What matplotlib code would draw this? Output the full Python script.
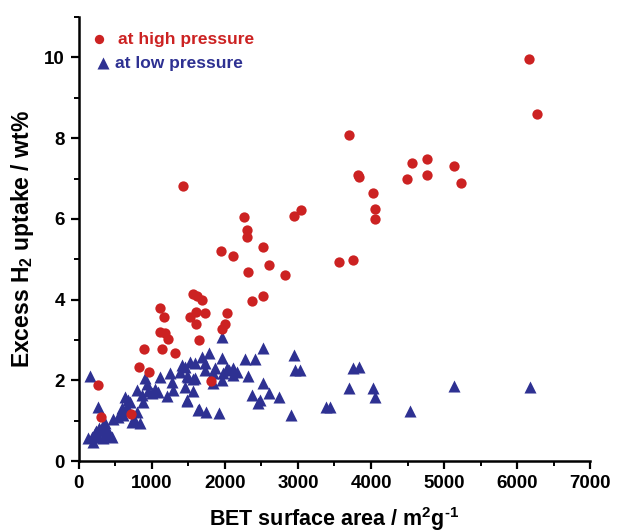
import matplotlib
matplotlib.use("Agg")
import matplotlib.pyplot as plt
from matplotlib.ticker import MultipleLocator

plt.rcParams['font.family'] = ['Liberation Sans', 'DejaVu Sans']
plt.rcParams['font.weight'] = 'bold'
plt.rcParams['mathtext.fontset'] = 'custom'
plt.rcParams['mathtext.rm'] = 'Liberation Sans:bold'
plt.rcParams['mathtext.bf'] = 'Liberation Sans:bold'
plt.rcParams['mathtext.default'] = 'bf'
plt.rcParams['axes.unicode_minus'] = False

# High-pressure data (BET m2/g, excess uptake wt%)
high_x = [6160, 6270, 3700, 4560, 4770, 5140, 3820, 3840, 4490, 4770, 5230, 4030,
          4055, 4055, 3040, 2945, 3560, 3750, 1425, 2260, 2300, 2300, 2520, 1945,
          2110, 2600, 2315, 2820, 1560, 1620, 1685, 2370, 2520, 1110, 1165, 1520,
          1600, 1725, 2030, 1600, 2000, 1960, 1110, 1180, 1220, 1645, 890, 1140,
          1315, 820, 960, 270, 310, 720, 1810]
high_y = [9.95, 8.59, 8.09, 7.39, 7.49, 7.32, 7.10, 7.04, 7.00, 7.10, 6.90, 6.65,
          6.25, 6.00, 6.23, 6.08, 4.94, 4.99, 6.82, 6.05, 5.73, 5.56, 5.31, 5.21,
          5.09, 4.86, 4.69, 4.62, 4.15, 4.10, 4.00, 3.97, 4.09, 3.80, 3.58, 3.58,
          3.70, 3.68, 3.68, 3.40, 3.40, 3.28, 3.20, 3.17, 3.03, 3.00, 2.78, 2.78,
          2.68, 2.33, 2.20, 1.90, 1.09, 1.17, 1.98]

# Low-pressure data
low_x = [3030, 2960, 2945, 3750, 3830, 3700, 4030, 4055, 3380, 3440, 4540, 5140,
         6180, 2905,
         1960, 2520, 2275, 2410, 2315, 2520, 2370, 2480, 2600, 2740, 2450, 1645,
         1740, 1920, 1480, 1560, 1450, 1780, 1685, 1520, 1410, 1960, 1725, 1590,
         1860, 2030, 2110, 2110, 1975, 1835, 1725, 1560, 1480, 1960, 1835, 2160,
         2060,
         150, 260, 125, 190, 220, 310, 380, 425, 330, 180, 260, 330, 465, 605,
         630, 605, 655, 700, 725, 795, 835, 880, 795, 905, 930, 945, 1000, 1080,
         1110, 1205, 1245, 1275, 1290, 1385, 1450, 1495, 1480, 1590, 1630, 590,
         400, 450, 280, 360, 240, 540, 760, 680, 860, 1050]
low_y = [2.26, 2.26, 2.63, 2.31, 2.33, 1.81, 1.81, 1.59, 1.34, 1.34, 1.24, 1.86,
         1.84, 1.15,
         3.07, 2.80, 2.53, 2.53, 2.11, 1.94, 1.64, 1.51, 1.69, 1.60, 1.44, 1.29,
         1.22, 1.19, 1.51, 1.74, 1.84, 2.69, 2.58, 2.46, 2.38, 2.56, 2.43, 2.43,
         2.31, 2.31, 2.31, 2.13, 2.18, 2.18, 2.26, 2.03, 2.11, 2.01, 1.94, 2.20,
         2.25,
         2.10, 1.34, 0.57, 0.47, 0.69, 0.77, 0.77, 0.65, 0.57, 0.60, 0.60, 0.89,
         1.05, 1.14, 1.59, 1.27, 1.34, 1.46, 0.97, 1.22, 0.94, 1.46, 1.76, 2.06,
         1.92, 1.74, 1.69, 1.72, 2.08, 1.62, 2.18, 1.95, 1.76, 2.20, 2.33, 2.08,
         1.50, 2.06, 1.27, 1.32, 0.70, 0.60, 0.82, 0.95, 0.75, 1.10, 1.05, 1.52,
         1.65, 1.80]

x_ticks = [0, 1000, 2000, 3000, 4000, 5000, 6000, 7000]
y_ticks = [0, 2, 4, 6, 8, 10]

RED = '#cc2222'
BLUE = '#2e3192'

fig = plt.figure(figsize=(6.2, 5.32), dpi=100)
ax = fig.add_axes([0.127, 0.133, 0.825, 0.835])

ax.scatter(low_x, low_y, marker='^', s=75, color=BLUE, linewidths=0, zorder=2)
ax.scatter(high_x, high_y, marker='o', s=55, color=RED, linewidths=0, zorder=3)

ax.set_xlim(0, 7000)
ax.set_ylim(0, 11)
ax.set_xticks(x_ticks)
ax.set_yticks(y_ticks)
ax.xaxis.set_minor_locator(MultipleLocator(500))
ax.yaxis.set_minor_locator(MultipleLocator(1))
ax.tick_params(which='major', direction='out', length=6, width=1.6, labelsize=13.5, pad=4)
ax.tick_params(which='minor', direction='out', length=3.5, width=1.4)
for lbl in ax.get_xticklabels() + ax.get_yticklabels():
    lbl.set_fontweight('bold')

for side in ['top', 'right']:
    ax.spines[side].set_visible(False)
for side in ['left', 'bottom']:
    ax.spines[side].set_linewidth(1.8)

ax.set_xlabel(r'BET surface area / m$^{2}$g$^{\text{-1}}$', fontsize=15.5, fontweight='bold', labelpad=9)
ax.set_ylabel('Excess H$_{2}$ uptake / wt%', fontsize=16.5, fontweight='bold', labelpad=6)

# Legend drawn as marker + coloured text
ax.scatter([280], [10.45], marker='o', s=45, color=RED, linewidths=0, clip_on=False)
ax.text(540, 10.45, 'at high pressure', color=RED, fontsize=12.5, fontweight='bold', va='center')
ax.scatter([335], [9.86], marker='^', s=75, color=BLUE, linewidths=0, clip_on=False)
ax.text(500, 9.86, 'at low pressure', color=BLUE, fontsize=12.5, fontweight='bold', va='center')

fig.savefig('out.png', dpi=100)
